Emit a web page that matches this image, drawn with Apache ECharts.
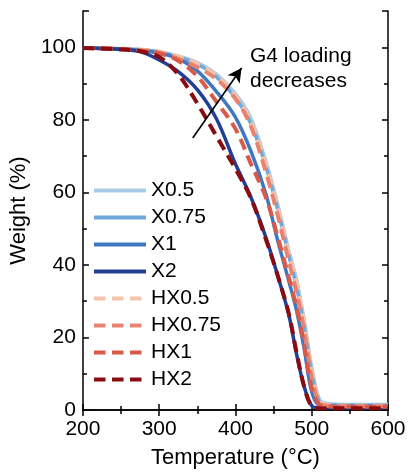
<!DOCTYPE html>
<html>
<head>
<meta charset="utf-8">
<script src="https://cdn.jsdelivr.net/npm/echarts@6/dist/echarts.min.js"></script>
<style>
  html, body { margin: 0; padding: 0; background: #fff; }
  #chart { width: 409px; height: 474px; }
</style>
</head>
<body>
<div id="chart"></div>
<script>
// Temperature sampling points (°C)
const temps = [200, 250, 275, 300, 325, 350, 375, 400, 420, 440, 455, 470, 480, 490, 500, 510, 520, 550, 600];

// Residual weight (%) for each sample
const wX05   = [99.8, 99.6, 99.4, 98.8, 97.6, 95.8, 92.6, 87.2, 80.5, 68.5, 57.0, 44.0, 36.0, 25.0, 12.0, 3.0, 1.8, 1.5, 1.5];
const wX075  = [99.8, 99.6, 99.3, 98.7, 97.3, 95.3, 91.8, 86.0, 79.0, 67.0, 55.5, 42.5, 34.0, 23.0, 10.0, 2.2, 1.5, 1.3, 1.3];
const wX1    = [99.8, 99.5, 99.1, 98.4, 96.8, 93.5, 87.8, 80.7, 71.5, 59.5, 47.0, 35.5, 27.5, 17.0, 5.0, 1.3, 1.1, 1.0, 1.0];
const wX2    = [99.8, 99.4, 98.8, 96.5, 93.3, 88.3, 80.3, 67.8, 58.8, 47.5, 37.3, 26.2, 15.5, 6.5, 1.2, 0.6, 0.6, 0.6, 0.6];
const wHX05  = [99.8, 99.6, 99.4, 98.8, 97.5, 95.5, 92.2, 86.6, 79.5, 67.5, 56.0, 43.0, 35.0, 24.0, 11.0, 2.5, 1.5, 1.2, 1.2];
const wHX075 = [99.8, 99.5, 99.2, 98.6, 96.8, 94.5, 91.2, 85.8, 78.3, 65.5, 54.0, 41.0, 32.5, 22.0, 9.0, 2.0, 1.2, 1.0, 1.0];
const wHX1   = [99.8, 99.5, 99.1, 98.3, 96.3, 92.0, 85.0, 77.5, 68.0, 58.5, 48.0, 36.5, 28.5, 18.0, 6.0, 1.5, 1.0, 0.9, 0.9];
const wHX2   = [99.8, 99.4, 98.9, 97.3, 92.5, 84.5, 75.5, 66.5, 58.5, 47.0, 37.3, 26.5, 16.0, 6.5, 1.0, 0.5, 0.5, 0.5, 0.5];

const seriesNames = ['X0.5', 'X0.75', 'X1', 'X2', 'HX0.5', 'HX0.75', 'HX1', 'HX2'];
const seriesValues = [wX05, wX075, wX1, wX2, wHX05, wHX075, wHX1, wHX2];

// Axis ticks
const xTicks = [200, 300, 400, 500, 600];
const yTicks = [0, 20, 40, 60, 80, 100];

// Annotation arrow: tail and head in data coordinates
const arrowFrom = [344, 75];
const arrowTo = [408, 94.3];
const annotationText = 'G4 loading\ndecreases';

// Styling
const colors = ['#a9cbe8', '#6ea9dc', '#3f78c1', '#233f94', '#f4c3ab', '#e8836f', '#d95a48', '#8a0c10'];
const dashed = [false, false, false, false, true, true, true, true];
const FONT = 'Liberation Sans, Arial, sans-serif';

const series = seriesNames.map((name, i) => ({
  name,
  type: 'line',
  data: temps.map((t, k) => [t, seriesValues[i][k]]),
  smooth: 0.35,
  showSymbol: false,
  symbol: 'none',
  color: colors[i],
  lineStyle: {
    color: colors[i],
    width: dashed[i] ? 4 : 3.5,
    type: dashed[i] ? [11.5, 6.5] : 'solid'
  },
  z: dashed[i] ? 3 : 2,
  emphasis: { disabled: true },
  silent: true
}));

// Arrow drawn as a mark line on the first series
series[0].markLine = {
  silent: true,
  symbol: ['none', 'arrow'],
  symbolSize: [11, 14],
  label: { show: false },
  lineStyle: { color: '#000', width: 1.6, type: 'solid' },
  emphasis: { disabled: true },
  data: [[{ coord: arrowFrom }, { coord: arrowTo }]]
};

const commonAxisLine = { show: true, lineStyle: { color: '#000', width: 1.5 } };
const commonTick = { show: true, inside: true, length: 6, lineStyle: { color: '#000', width: 1.5 } };
const commonMinor = { show: true, splitNumber: 2, length: 4, lineStyle: { color: '#000', width: 1.5 } };

const option = {
  animation: false,
  backgroundColor: '#fff',
  grid: { left: 79, right: 21, top: 11, bottom: 56, containLabel: false },
  legend: {
    orient: 'vertical',
    left: 87,
    top: 175,
    itemWidth: 52,
    itemHeight: 14,
    itemGap: 6,
    data: seriesNames,
    itemStyle: { opacity: 0 },
    lineStyle: { width: 4 },
    textStyle: { fontFamily: FONT, fontSize: 21, color: '#000', lineHeight: 21 },
    selectedMode: false
  },
  xAxis: [
    {
      type: 'value', min: 200, max: 600, interval: 100,
      name: 'Temperature (°C)', nameLocation: 'middle', nameGap: 37,
      nameTextStyle: { fontFamily: FONT, fontSize: 22, color: '#000' },
      axisLine: commonAxisLine, axisTick: commonTick, minorTick: commonMinor,
      splitLine: { show: false },
      axisLabel: {
        fontFamily: FONT, fontSize: 21, color: '#000', margin: 9,
        formatter: v => (xTicks.includes(v) ? String(v) : '')
      }
    },
    {
      type: 'value', min: 200, max: 600, interval: 100, position: 'top',
      axisLine: commonAxisLine, axisTick: commonTick, minorTick: commonMinor,
      splitLine: { show: false }, axisLabel: { show: false }
    }
  ],
  yAxis: [
    {
      type: 'value', min: 0, max: 110, interval: 20,
      name: 'Weight (%)', nameLocation: 'middle', nameGap: 46,
      nameTextStyle: { fontFamily: FONT, fontSize: 22, color: '#000' },
      axisLine: commonAxisLine, axisTick: commonTick, minorTick: commonMinor,
      splitLine: { show: false },
      axisLabel: {
        fontFamily: FONT, fontSize: 21, color: '#000', margin: 7,
        formatter: v => (yTicks.includes(v) ? String(v) : ''),
        showMaxLabel: false
      }
    },
    {
      type: 'value', min: 0, max: 110, interval: 20, position: 'right',
      axisLine: commonAxisLine, axisTick: commonTick, minorTick: commonMinor,
      splitLine: { show: false }, axisLabel: { show: false }
    }
  ],
  graphic: [
    {
      type: 'text',
      left: 250,
      top: 44,
      style: {
        text: annotationText,
        fontFamily: FONT,
        fontSize: 21,
        lineHeight: 25,
        fill: '#000'
      }
    }
  ],
  series
};

const chart = echarts.init(document.getElementById('chart'), null, { renderer: 'canvas' });
chart.setOption(option);
</script>
</body>
</html>
